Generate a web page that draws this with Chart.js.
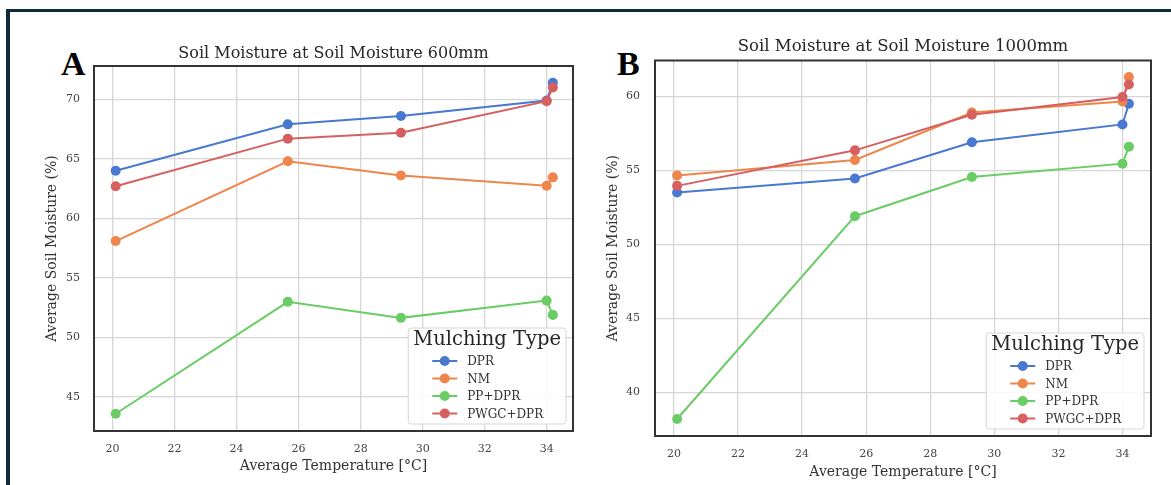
<!DOCTYPE html>
<html lang="en">
<head>
<meta charset="UTF-8">
<title>Soil Moisture vs Average Temperature</title>
<script src="https://cdn.jsdelivr.net/npm/chart.js"></script>
<style>
  body {margin: 0; background: #fff; width: 1171px; height: 485px; overflow: hidden; position: relative;}
  .frameTop {position: absolute; left: 6px; top: 9px; width: 1165px; height: 3px; background: #0e2a3b;}
  .frameLeft {position: absolute; left: 6px; top: 9px; width: 4px; height: 476px; background: #0e2a3b;}
  .panel {position: absolute; top: 0; height: 485px;}
  .tag {position: absolute; font-family: "Liberation Serif", serif; font-weight: bold;
        font-size: 34px; line-height: 34px; color: #000;}
</style>
</head>
<body>
<div class="frameTop"></div>
<div class="frameLeft"></div>
<div class="tag" style="left:61px; top:47px;">A</div>
<div class="tag" style="left:617px; top:47px;">B</div>
<div class="panel" style="left:0; width:600px;"><canvas id="chartA"></canvas></div>
<div class="panel" style="left:600px; width:571px;"><canvas id="chartB"></canvas></div>

<script>
// average temperature (°C) for each measurement
const temps = [20.1, 25.65, 29.3, 34.0, 34.2];
const mulchTypes = ['DPR', 'NM', 'PP+DPR', 'PWGC+DPR'];
const mulchColors = ['#4878d0', '#ee854a', '#6acc64', '#d65f5f'];

// A: soil moisture 600mm
const dprA  = [64.0, 67.9, 68.6, 69.9, 71.4];
const nmA   = [58.1, 64.8, 63.6, 62.75, 63.45];
const ppA   = [43.6, 53.0, 51.65, 53.1, 51.9];
const pwgcA = [62.7, 66.7, 67.2, 69.85, 71.0];

// B: soil moisture 1000mm
const dprB  = [53.5, 54.45, 56.9, 58.1, 59.5];
const nmB   = [54.65, 55.7, 58.9, 59.65, 61.3];
const ppB   = [38.2, 51.9, 54.55, 55.45, 56.6];
const pwgcB = [53.95, 56.35, 58.75, 59.95, 60.8];

const xTicks = [20, 22, 24, 26, 28, 30, 32, 34];
const yTicksA = [45, 50, 55, 60, 65, 70];
const yTicksB = [40, 45, 50, 55, 60];

const serif = '"DejaVu Serif", serif';

// plot box + title centred over the axes (like matplotlib)
const boxFrame = {
    id: 'boxFrame',
    afterDraw(chart, args, opts) {
        const a = chart.chartArea, ctx = chart.ctx;
        ctx.save();
        ctx.strokeStyle = '#333';
        ctx.lineWidth = 2;
        ctx.strokeRect(a.left, a.top, a.right - a.left, a.bottom - a.top);
        ctx.fillStyle = '#262626';
        ctx.font = opts.size + 'px ' + serif;
        ctx.textAlign = 'center';
        ctx.textBaseline = 'middle';
        ctx.fillText(opts.text, (a.left + a.right) / 2, opts.y);
        ctx.restore();
    }
};

const mulchLegend = {
    id: 'mulchLegend',
    afterDatasetsDraw(chart, args, opts) {
        const a = chart.chartArea, ctx = chart.ctx;
        ctx.save();
        ctx.font = '19.5px ' + serif;
        const tw = ctx.measureText('Mulching Type').width;
        const w = tw + 10, h = 96;
        const x = a.right - opts.right - w, y = a.bottom - opts.bottom - h;
        ctx.beginPath();
        ctx.roundRect(x, y, w, h, 3);
        ctx.fillStyle = 'rgba(255,255,255,0.85)';
        ctx.fill();
        ctx.strokeStyle = '#d6d6d6';
        ctx.lineWidth = 1;
        ctx.stroke();
        ctx.fillStyle = '#262626';
        ctx.textAlign = 'center';
        ctx.textBaseline = 'middle';
        ctx.fillText('Mulching Type', x + w / 2, y + 12);
        ctx.font = '12px ' + serif;
        ctx.textAlign = 'left';
        mulchTypes.forEach((name, i) => {
            const ry = y + 33 + i * 17.5;
            ctx.strokeStyle = mulchColors[i];
            ctx.lineWidth = 2;
            ctx.beginPath();
            ctx.moveTo(x + 24, ry);
            ctx.lineTo(x + 49, ry);
            ctx.stroke();
            ctx.fillStyle = mulchColors[i];
            ctx.beginPath();
            ctx.arc(x + 36.5, ry, 5, 0, Math.PI * 2);
            ctx.fill();
            ctx.fillStyle = '#333';
            ctx.fillText(name, x + 59, ry + 1);
        });
        ctx.restore();
    }
};

function buildChart(id, c) {
    const series = [c.dpr, c.nm, c.pp, c.pwgc];
    const datasets = series.map((vals, i) => ({
        label: mulchTypes[i],
        data: vals.map((v, k) => ({x: temps[k], y: v})),
        borderColor: mulchColors[i],
        backgroundColor: mulchColors[i],
        borderWidth: 2,
        pointRadius: 5,
        pointBorderWidth: 0,
        showLine: true,
        tension: 0,
        order: 4 - i
    }));
    new Chart(document.getElementById(id), {
        type: 'scatter',
        data: {datasets: datasets},
        options: {
            responsive: true,
            maintainAspectRatio: false,
            animation: false,
            devicePixelRatio: 1,
            layout: {padding: {left: 0, top: c.areaTop, right: c.padRight, bottom: 0}},
            plugins: {
                legend: {display: false},
                tooltip: {enabled: false},
                title: {display: false},
                boxFrame: {text: c.title, y: c.titleY, size: c.titleSize},
                mulchLegend: {right: 7, bottom: 7}
            },
            scales: {
                x: {
                    type: 'linear',
                    min: c.xMin, max: c.xMax,
                    afterBuildTicks: s => { s.ticks = xTicks.map(v => ({value: v})); },
                    afterFit: s => { s.height = c.xAxisH; },
                    grid: {color: '#d6d6d6', lineWidth: 1.3, drawTicks: false},
                    border: {display: false},
                    ticks: {padding: 12, color: '#444', font: {family: serif, size: 11}},
                    title: {
                        display: true, text: 'Average Temperature [°C]', color: '#333',
                        font: {family: serif, size: 14}, padding: {top: 0, bottom: c.xTitlePad}
                    }
                },
                y: {
                    min: c.yMin, max: c.yMax,
                    afterBuildTicks: s => { s.ticks = c.yTicks.map(v => ({value: v})); },
                    afterFit: s => { s.width = c.yAxisW; },
                    grid: {color: '#d6d6d6', lineWidth: 1.3, drawTicks: false},
                    border: {display: false},
                    ticks: {padding: c.yTickPad, color: '#444', font: {family: serif, size: 11}},
                    title: {
                        display: true, text: 'Average Soil Moisture (%)', color: '#333',
                        font: {family: serif, size: 14}, padding: {top: c.yTitlePad, bottom: 0}
                    }
                }
            }
        },
        plugins: [mulchLegend, boxFrame]
    });
}

buildChart('chartA', {
    dpr: dprA, nm: nmA, pp: ppA, pwgc: pwgcA,
    title: 'Soil Moisture at Soil Moisture 600mm', titleY: 54, areaTop: 66, titleSize: 16,
    xMin: 19.4, xMax: 34.85, yMin: 42.15, yMax: 72.8, yTicks: yTicksA,
    padRight: 27, xAxisH: 54, yAxisW: 94, xTitlePad: 10.5, yTitlePad: 44, yTickPad: 14
});

buildChart('chartB', {
    dpr: dprB, nm: nmB, pp: ppB, pwgc: pwgcB,
    title: 'Soil Moisture at Soil Moisture 1000mm', titleY: 47, areaTop: 60.5, titleSize: 16.5,
    xMin: 19.41, xMax: 34.89, yMin: 37.05, yMax: 62.42, yTicks: yTicksB,
    padRight: 20, xAxisH: 49, yAxisW: 55, xTitlePad: 4, yTitlePad: 4.5, yTickPad: 15
});
</script>
</body>
</html>
